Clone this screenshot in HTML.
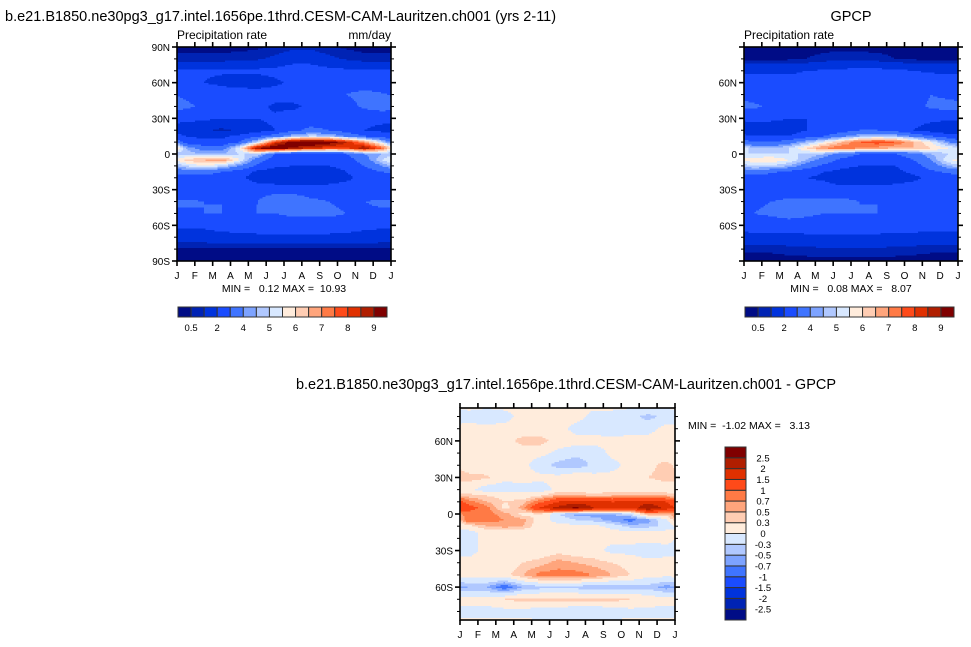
<!DOCTYPE html>
<html><head><meta charset="utf-8">
<style>
html,body{margin:0;padding:0;background:#fff;}
svg{display:block;font-family:"Liberation Sans",Arial,sans-serif;}
</style></head>
<body>
<svg id="root" width="971" height="647" viewBox="0 0 971 647" xmlns="http://www.w3.org/2000/svg">
<text x="5" y="21" font-size="14.5">b.e21.B1850.ne30pg3_g17.intel.1656pe.1thrd.CESM-CAM-Lauritzen.ch001 (yrs 2-11)</text>
<text x="851" y="21" font-size="14.5" text-anchor="middle">GPCP</text>
<text x="566" y="389" font-size="14.5" text-anchor="middle">b.e21.B1850.ne30pg3_g17.intel.1656pe.1thrd.CESM-CAM-Lauritzen.ch001 - GPCP</text>
<text x="177" y="39" font-size="12">Precipitation rate</text>
<text x="391" y="39" font-size="12" text-anchor="end">mm/day</text>
<text x="744" y="39" font-size="12">Precipitation rate</text>
<text x="284" y="292" font-size="10.5" text-anchor="middle" xml:space="preserve">MIN =   0.12 MAX =  10.93</text>
<text x="851" y="292" font-size="10.5" text-anchor="middle" xml:space="preserve">MIN =   0.08 MAX =   8.07</text>
<text x="688" y="429" font-size="10.5" xml:space="preserve">MIN =  -1.02 MAX =   3.13</text>
<g id="layer"></g>
</svg>
<script>
// ---------- data ----------
const months = ['J','F','M','A','M','J','J','A','S','O','N','D','J'];
const lats = [90,80,70,60,50,40,30,20,15,10,5,0,-5,-10,-15,-20,-30,-40,-50,-60,-70,-80,-90];
const precipLevels = [0.5,1,2,3,4,4.5,5,5.5,6,6.5,7,7.5,8,8.5,9];
const precipLabels = ['0.5','2','4','5','6','7','8','9'];
const diffLevels = [-2.5,-2,-1.5,-1,-0.7,-0.5,-0.3,0,0.3,0.5,0.7,1,1.5,2,2.5];
const diffLabels = ['-2.5','-2','-1.5','-1','-0.7','-0.5','-0.3','0','0.3','0.5','0.7','1','1.5','2','2.5'];
const palette = ['#000c86','#0023b4','#0033dd','#1a4cff','#3f74ff','#7da3ff','#b0c8ff','#d8e8ff','#ffecdc','#ffcdb3','#ffa57c','#ff7a45','#ff4a19','#e03000','#b01e00','#800000'];
const modelValues = [
[0.3,0.3,0.3,0.3,0.4,0.6,0.8,0.8,0.6,0.4,0.3,0.3],
[0.7,0.7,0.7,0.8,0.9,1.2,1.6,1.6,1.2,0.9,0.7,0.7],
[2.1,2.1,2.1,2.2,2.2,2.3,2.5,2.5,2.3,2.2,2.1,2.1],
[2.2,2.0,1.8,1.6,1.5,1.8,2.2,2.5,2.5,2.5,2.5,2.4],
[2.8,2.6,2.5,2.5,2.5,2.5,2.5,2.5,2.6,3.0,3.3,3.1],
[3.2,2.8,2.5,2.5,2.3,1.8,1.8,2.2,2.5,2.6,3.2,3.5],
[2.2,2.2,2.0,2.0,2.0,2.2,2.5,2.5,2.5,2.5,2.2,2.2],
[1.6,1.2,0.8,1.2,1.6,2.0,2.8,3.2,3.0,2.5,2.0,1.8],
[2.0,1.8,1.8,2.2,2.8,3.5,4.5,5.0,4.8,3.8,3.0,2.5],
[2.5,2.2,2.2,3.0,5.0,8.0,9.5,9.8,9.5,8.5,7.0,5.0],
[4.5,3.5,3.5,5.5,9.0,9.8,9.0,8.5,8.0,8.0,9.0,7.5],
[4.8,4.5,4.5,5.0,5.0,3.0,2.6,2.5,2.5,3.0,4.0,4.5],
[6.2,6.5,7.0,5.5,3.5,2.5,2.2,2.2,2.2,2.5,3.5,5.0],
[5.0,5.5,5.0,4.0,2.8,2.2,2.0,2.0,2.0,2.3,3.0,4.0],
[3.5,3.5,3.0,2.5,1.8,1.5,1.3,1.3,1.5,2.0,2.5,3.0],
[2.5,2.5,2.5,2.2,1.6,1.4,1.2,1.2,1.4,1.8,2.3,2.5],
[2.0,2.3,2.5,2.5,2.5,2.5,2.5,2.5,2.5,2.5,2.2,2.0],
[3.2,3.0,3.0,2.8,3.0,3.8,3.8,3.2,3.0,2.8,3.0,3.2],
[2.8,3.0,3.0,3.0,3.0,3.0,3.2,3.2,3.2,3.0,2.8,2.8],
[2.2,2.2,2.5,2.5,2.5,2.5,2.5,2.5,2.5,2.5,2.3,2.2],
[1.5,1.5,1.6,1.7,1.8,1.8,1.8,1.8,1.8,1.7,1.6,1.5],
[0.4,0.4,0.4,0.4,0.4,0.4,0.4,0.4,0.4,0.4,0.4,0.4],
[0.2,0.2,0.2,0.2,0.2,0.2,0.2,0.2,0.2,0.2,0.2,0.2]];
const obsValues = [
[0.3,0.3,0.3,0.3,0.3,0.3,0.3,0.3,0.3,0.3,0.3,0.3],
[0.3,0.3,0.4,0.5,0.7,0.9,0.8,0.7,0.5,0.4,0.3,0.3],
[1.9,1.9,1.9,2.0,2.1,2.2,2.3,2.3,2.2,2.0,1.9,1.9],
[2.2,2.2,2.2,2.2,2.2,2.4,2.5,2.5,2.5,2.5,2.4,2.3],
[2.6,2.5,2.5,2.5,2.5,2.5,2.5,2.5,2.5,2.6,3.0,2.8],
[3.2,2.8,2.5,2.5,2.5,2.5,2.5,2.5,2.5,2.6,3.2,3.3],
[2.2,2.2,2.0,2.0,2.2,2.4,2.5,2.5,2.5,2.3,2.2,2.2],
[1.5,1.4,1.6,2.0,2.2,2.5,3.0,3.0,2.6,2.0,1.6,1.2],
[2.0,2.0,2.0,2.5,3.0,3.8,4.5,4.8,4.5,3.8,3.0,2.5],
[3.0,3.0,3.5,4.5,5.5,6.5,7.5,7.8,7.5,6.5,5.5,4.0],
[4.8,4.5,5.0,6.0,7.0,7.5,7.0,6.8,6.5,6.5,6.0,5.5],
[5.0,5.0,5.0,5.0,4.5,3.5,3.0,3.0,3.0,3.5,4.5,5.0],
[5.8,6.0,5.5,4.5,3.5,2.8,2.5,2.5,2.5,3.0,4.0,5.5],
[5.0,5.0,4.5,3.5,2.8,2.3,2.0,2.0,2.0,2.5,3.5,4.5],
[3.5,3.2,2.8,2.4,2.0,1.7,1.5,1.5,1.8,2.2,2.8,3.2],
[2.5,2.5,2.3,2.0,1.8,1.2,1.0,1.0,1.5,1.8,2.2,2.5],
[2.2,2.3,2.5,2.5,2.5,2.5,2.5,2.5,2.5,2.5,2.3,2.2],
[2.8,3.0,3.2,3.2,3.2,3.2,3.0,3.0,2.8,2.6,2.6,2.8],
[3.0,3.2,3.5,3.2,3.0,3.0,3.0,3.0,3.0,2.8,2.8,2.8],
[2.3,2.3,2.4,2.5,2.5,2.5,2.5,2.5,2.4,2.3,2.2,2.2],
[1.8,1.8,1.8,1.8,1.8,1.8,1.8,1.8,1.8,1.8,1.8,1.8],
[0.6,0.6,0.7,0.8,0.9,0.9,0.9,0.9,0.8,0.7,0.6,0.6],
[0.3,0.3,0.3,0.3,0.3,0.3,0.3,0.3,0.3,0.3,0.3,0.3]];
const diffValues = [
[0.1,0.1,0.1,0.1,0.1,0.1,0.1,0.1,0.1,0.1,0.1,0.1],
[-0.1,-0.2,-0.1,0.1,0.1,0.1,0.1,-0.1,-0.1,-0.2,-0.4,-0.2],
[0.1,0.1,0.1,0.1,0.1,0.1,-0.1,-0.1,-0.2,-0.1,-0.1,0.1],
[0.1,0.1,0.2,0.4,0.4,0.2,0.1,0.1,0.1,0.1,0.1,0.1],
[0.1,0.1,0.1,0.1,0.1,-0.1,-0.2,-0.2,0.1,0.1,0.1,0.1],
[0.1,0.1,0.1,0.1,-0.2,-0.4,-0.5,-0.2,-0.1,0.1,0.2,0.4],
[0.4,0.35,0.1,0.1,0.1,0.1,0.3,0.1,0.1,0.1,0.3,0.4],
[0.1,-0.2,-0.2,-0.1,-0.2,0.1,0.1,0.1,0.2,0.1,0.1,0.1],
[0.4,0.3,0.2,0.1,0.3,0.6,0.6,0.4,0.5,0.6,0.6,0.5],
[0.8,0.5,0.3,0.4,0.9,1.5,1.8,1.7,1.5,1.6,1.8,1.5],
[1.2,0.8,0.2,0.6,1.6,2.2,2.6,2.0,1.8,1.6,2.5,1.8],
[0.8,0.8,0.6,0.2,0.3,-0.3,-0.6,-0.6,-0.5,-0.3,0.6,0.5],
[1.0,0.8,0.7,0.6,0.1,-0.1,-0.3,-0.4,-0.6,-0.8,-0.6,-0.1],
[0.2,0.5,0.6,0.5,0.1,0.1,0.1,0.1,-0.1,-0.4,-0.4,-0.2],
[-0.1,0.1,0.1,0.1,0.1,0.1,0.1,0.1,0.1,0.1,0.1,0.1],
[-0.1,0.1,0.1,0.1,0.1,0.1,0.1,0.1,0.1,0.1,0.1,0.1],
[-0.1,0.1,0.1,0.1,0.1,0.2,0.1,0.1,-0.1,-0.1,-0.2,-0.1],
[0.1,0.1,0.1,0.3,0.4,0.6,0.5,0.4,0.3,0.2,0.1,0.1],
[0.1,0.1,0.2,0.5,0.8,0.8,0.8,0.7,0.5,0.3,0.1,0.1],
[-0.5,-0.5,-0.9,-0.5,-0.4,-0.4,-0.4,-0.5,-0.5,-0.4,-0.4,-0.6],
[0.1,0.1,0.3,0.4,0.4,0.4,0.4,0.4,0.4,0.3,0.2,0.1],
[-0.1,-0.1,-0.1,-0.1,-0.2,-0.2,-0.3,-0.3,-0.2,-0.1,-0.1,-0.1],
[0.1,0.1,0.1,0.1,0.1,0.1,0.1,0.1,0.1,0.1,0.1,0.1]];
const majorLatTicks = [90,60,30,0,-30,-60,-90];
const leftLatLabels = ['90N','60N','30N','0','30S','60S','90S'];
const rightLatLabels = ['','60N','30N','0','30S','60S',''];

// ---------- drawing ----------
const NS='http://www.w3.org/2000/svg';
const layer=document.getElementById('layer');
function mk(tag,attrs,parent){const e=document.createElementNS(NS,tag);for(const k in attrs)e.setAttribute(k,attrs[k]);(parent||layer).appendChild(e);return e;}
function levelIndex(v,levels){let i=0;while(i<levels.length&&v>=levels[i])i++;return i;}
function sample(values,t,lat){
  let tm=t-0.5; let k0=Math.floor(tm); let f=tm-k0;
  const c0=((k0%12)+12)%12, c1=(c0+1)%12;
  let r=0; while(r<lats.length-2&&lat<lats[r+1])r++;
  const g=(lats[r]-lat)/(lats[r]-lats[r+1]);
  const a=values[r][c0]*(1-f)+values[r][c1]*f;
  const b=values[r+1][c0]*(1-f)+values[r+1][c1]*f;
  return a*(1-g)+b*g;
}
function panel(name,x0,y0,w,h,latTop,latBot,values,levels,latLabels){
  const g=mk('g',{});
  
  
  const yOf=lat=>y0+(latTop-lat)/(latTop-latBot)*h;
  const xOf=m=>x0+m/12*w;
  const step=1.5;
  for(let py=0;py<h;py+=step){
    const lat=latTop-(py+step/2)/h*(latTop-latBot);
    const hh=Math.min(step,h-py);
    let runStart=0,runCol=null;
    const n=Math.ceil(w/step);
    for(let i=0;i<=n;i++){
      let col=null;
      if(i<n){const t=(i*step+step/2)/w*12;col=palette[levelIndex(sample(values,t,lat),levels)];}
      if(col!==runCol){
        if(runCol!==null){
          const rx=x0+runStart*step;
          const rw=Math.min((i-runStart)*step,w-runStart*step)+(i<n?0.4:0);
          const r=mk('rect',{x:rx.toFixed(2),y:(y0+py).toFixed(2),width:rw.toFixed(2),height:(hh+(py+step<h?0.4:0)).toFixed(2),fill:runCol},g);
          
          
        }
        runStart=i;runCol=col;
      }
    }
  }
  const fr=mk('rect',{x:x0,y:y0,width:w,height:h,fill:'none',stroke:'#000','stroke-width':1.6},g);
  
  
  for(let lat=90;lat>=-90;lat-=10){
    if(lat>latTop+0.01||lat<latBot-0.01)continue;
    const y=yOf(lat);const major=majorLatTicks.includes(lat);const L=major?5:3;
    mk('line',{x1:x0-L,y1:y,x2:x0,y2:y,stroke:'#000','stroke-width':major?1.6:1},g);
    mk('line',{x1:x0+w,y1:y,x2:x0+w+L,y2:y,stroke:'#000','stroke-width':major?1.6:1},g);
  }
  majorLatTicks.forEach((lat,i)=>{
    if(!latLabels[i]||lat>latTop+0.01||lat<latBot-0.01)return;
    const t=mk('text',{x:x0-7,y:yOf(lat)+4,'font-size':10,'text-anchor':'end'},g);
    t.textContent=latLabels[i];
    
    
  });
  months.forEach((m,i)=>{
    const x=xOf(i);
    mk('line',{x1:x,y1:y0+h,x2:x,y2:y0+h+5,stroke:'#000','stroke-width':1.6},g);
    mk('line',{x1:x,y1:y0-5,x2:x,y2:y0,stroke:'#000','stroke-width':1.6},g);
    const t=mk('text',{x:x,y:y0+h+18,'font-size':10,'text-anchor':'middle'},g);
    t.textContent=m;
    
    
  });
}
panel('model-panel',177,47,214,214,90,-90,modelValues,precipLevels,leftLatLabels);
panel('gpcp-panel',744,47,214,214,90,-90,obsValues,precipLevels,rightLatLabels);
panel('diff-panel',460,408,215,212,87,-87,diffValues,diffLevels,rightLatLabels);

function hbar(name,x0,y0,w,h){
  const g=mk('g',{});
  
  
  const bw=w/palette.length;
  palette.forEach((c,i)=>{
    const r=mk('rect',{x:x0+i*bw,y:y0,width:bw,height:h,fill:c,stroke:'#333','stroke-width':1},g);
    
    
  });
  precipLabels.forEach((lab,j)=>{
    const t=mk('text',{x:x0+(2*j+1)*bw,y:y0+h+14,'font-size':9.5,'text-anchor':'middle'},g);
    t.textContent=lab;
    
    
  });
}
hbar('model-colorbar',178,307,209,10);
hbar('gpcp-colorbar',745,307,209,10);
(function(){
  const g=mk('g',{});
  
  
  const x0=725,y0=447,w=21,h=173,bh=h/palette.length;
  palette.forEach((c,i)=>{
    const r=mk('rect',{x:x0,y:y0+(palette.length-1-i)*bh,width:w,height:bh,fill:c,stroke:'#333','stroke-width':1},g);
    
    
  });
  diffLabels.forEach((lab,j)=>{
    const t=mk('text',{x:763,y:y0+(palette.length-1-j)*bh+3.5,'font-size':9.5,'text-anchor':'middle'},g);
    t.textContent=lab;
    
    
  });
})();
</script>
</body></html>
